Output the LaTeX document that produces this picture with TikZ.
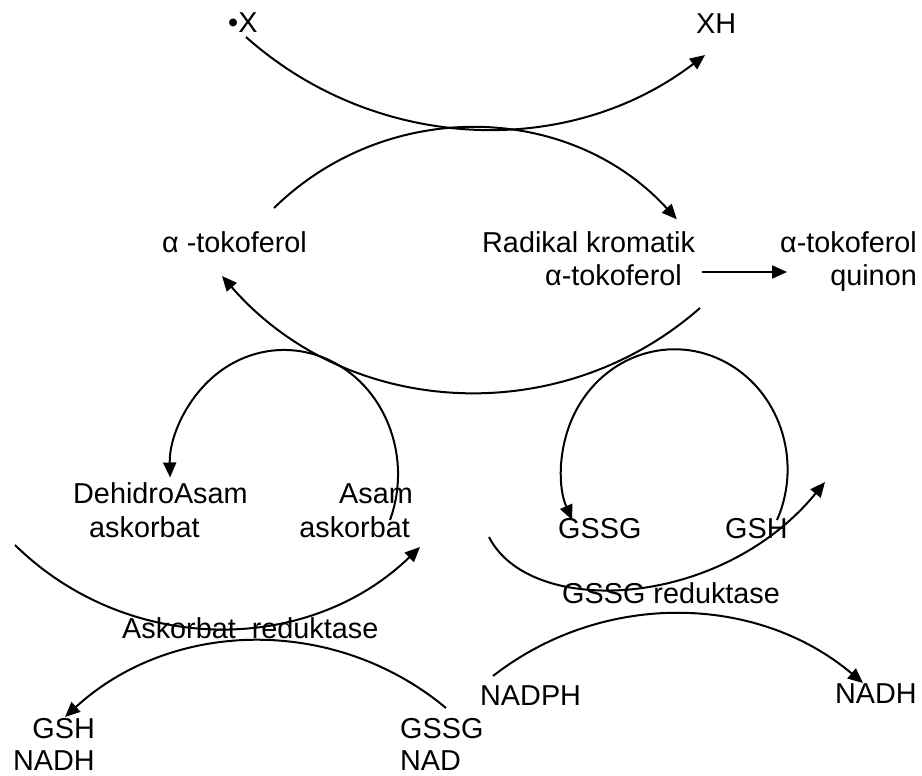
\documentclass[tikz,border=0pt]{standalone}
\usepackage{fontspec}
\setmainfont{Liberation Sans}
\usetikzlibrary{arrows.meta}

\tikzset{
  lbl/.style={inner sep=0pt, font=\fontsize{28.8}{33.5}\selectfont},
  arr/.style={line width=2pt, -{Triangle[length=15pt,width=13pt]}},
  plainline/.style={line width=2pt}
}

\begin{document}
\begin{tikzpicture}[x=1pt,y=-1pt]
  \fill[white] (0,0) rectangle (922,776);
  \useasboundingbox (0,0) rectangle (922,776);

  % labels
  \node[lbl, anchor=base west] (rad) at (228,33) {•X};
  \node[lbl, anchor=base west] (xh) at (696,34) {XH};
  \node[lbl, anchor=base west] (toc) at (162,252) {α -tokoferol};
  \node[lbl, anchor=base west] (radk1) at (482,252) {Radikal kromatik};
  \node[lbl, anchor=base west] (radk2) at (545,285) {α-tokoferol};
  \node[lbl, anchor=base east] (quin1) at (917,252) {α-tokoferol};
  \node[lbl, anchor=base east] (quin2) at (917,285) {quinon};
  \node[lbl, anchor=base west] (dha1) at (73,503) {DehidroAsam};
  \node[lbl, anchor=base west] (dha2) at (89,537) {askorbat};
  \node[lbl, anchor=base east] (asa1) at (413,503) {Asam};
  \node[lbl, anchor=base east] (asa2) at (410,537) {askorbat};
  \node[lbl, anchor=base west] (gssg) at (558,538) {GSSG};
  \node[lbl, anchor=base west] (gsh) at (725,538) {GSH};
  \node[lbl, anchor=base west] (gred) at (562,603) {GSSG reduktase};
  \node[lbl, anchor=base west] (ared) at (122,638) {Askorbat~~reduktase};
  \node[lbl, anchor=base west] (nadph) at (480,705) {NADPH};
  \node[lbl, anchor=base east] (nadhr) at (917,703) {NADH};
  \node[lbl, anchor=base east] (gshl) at (95,738) {GSH};
  \node[lbl, anchor=base east] (nadhl) at (95,770) {NADH};
  \node[lbl, anchor=base west] (gssgb) at (400,738) {GSSG};
  \node[lbl, anchor=base west] (nadb) at (400,770) {NAD};

  % connector end points
  \coordinate (xs) at (246,37);
  \coordinate (xe) at (705,55);
  \coordinate (ts) at (274,208);
  \coordinate (te) at (676.8,219.3);
  \coordinate (rs) at (700,308);
  \coordinate (re) at (222,276);
  \coordinate (qs) at (702,272);
  \coordinate (qe) at (787,272);
  \coordinate (as) at (390,520);
  \coordinate (gs) at (777,520);
  \coordinate (ls) at (15,545);
  \coordinate (le) at (420,547);
  \coordinate (ms) at (489,537);
  \coordinate (me) at (825,482);
  \coordinate (bs) at (446,708);
  \coordinate (be) at (65,717);
  \coordinate (ns) at (493,676);
  \coordinate (ne) at (863,683);

  % radical X is quenched by alpha-tocopherol
  \draw[arr] (xs) .. controls (375,152) and (567.5,160) .. (xe);
  \draw[arr] (ts) .. controls (387.3,97.1) and (570,102.2) .. (te);
  % oxidation to the quinone
  \draw[arr] (qs) -- (qe);
  % regeneration of alpha-tocopherol
  \draw[arr] (rs) .. controls (559.1,431.8) and (345.1,417.6) .. (re);
  % ascorbate cycle
  \draw[arr] (as) arc[start angle=-21.6, end angle=181.5, x radius=114pt, y radius=124.3pt];
  \draw[arr] (ls) .. controls (127,655.1) and (307,656.2) .. (le);
  % glutathione cycle
  \draw[arr] (gs) arc[start angle=-25, end angle=205, x radius=113pt, y radius=120pt];
  \draw[arr] (ms) .. controls (530,618) and (720,610) .. (me);
  % reductase cofactors
  \draw[arr] (bs) .. controls (334.7,615.2) and (171.7,619) .. (be);
  \draw[arr] (ns) .. controls (602.5,590.6) and (756.8,593.5) .. (ne);
\end{tikzpicture}
\end{document}
